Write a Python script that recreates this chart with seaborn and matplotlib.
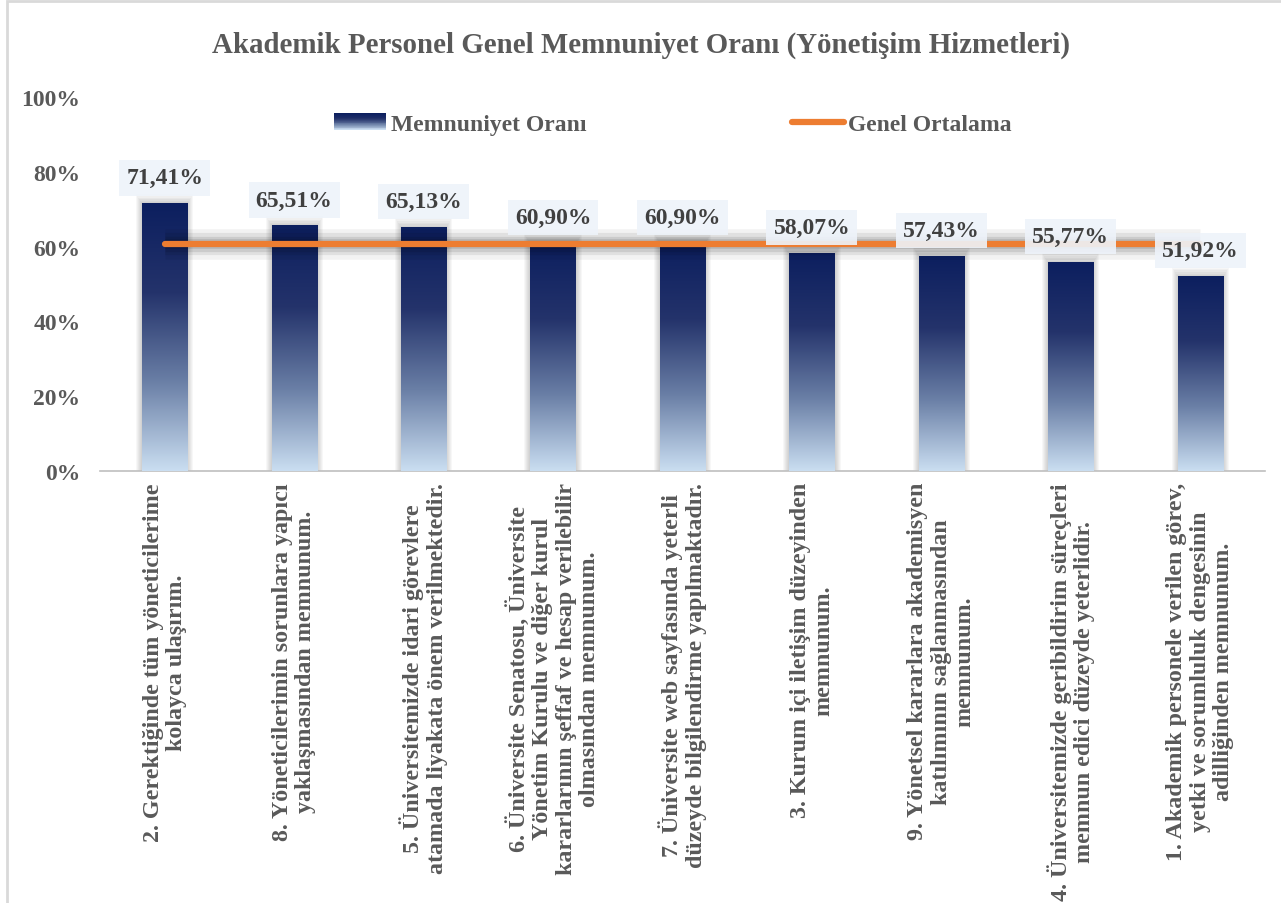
import numpy as np
import pandas as pd
import matplotlib
matplotlib.use('Agg')
import matplotlib.pyplot as plt
import seaborn as sns
from matplotlib.patches import Rectangle
from matplotlib.legend_handler import HandlerBase
from matplotlib.lines import Line2D
from matplotlib.colors import LinearSegmentedColormap

# Data
categories = [
    "2. Gerektiğinde tüm yöneticilerime\nkolayca ulaşırım.",
    "8. Yöneticilerimin sorunlara yapıcı\nyaklaşmasından memnunum.",
    "5. Üniversitemizde idari görevlere\natamada liyakata önem verilmektedir.",
    "6. Üniversite Senatosu, Üniversite\nYönetim Kurulu ve diğer kurul\nkararlarının şeffaf ve hesap verilebilir\nolmasından memnunum.",
    "7. Üniversite web sayfasında yeterli\ndüzeyde bilgilendirme yapılmaktadır.",
    "3. Kurum içi iletişim düzeyinden\nmemnunum.",
    "9. Yönetsel kararlara akademisyen\nkatılımının sağlanmasından\nmemnunum.",
    "4. Üniversitemizde geribildirim süreçleri\nmemnun edici düzeyde yeterlidir.",
    "1. Akademik personele verilen görev,\nyetki ve sorumluluk dengesinin\nadilliğinden memnunum.",
]
memnuniyet = [71.41, 65.51, 65.13, 60.90, 60.90, 58.07, 57.43, 55.77, 51.92]
genel_ortalama = [60.78] * 9
value_labels = ["71,41%", "65,51%", "65,13%", "60,90%", "60,90%", "58,07%", "57,43%", "55,77%", "51,92%"]
y_ticks = [0, 20, 40, 60, 80, 100]

df = pd.DataFrame({'kategori': categories, 'oran': memnuniyet, 'ortalama': genel_ortalama})
df['x'] = range(len(df))

sns.set_style('white')
plt.rcParams['font.family'] = ['Liberation Serif', 'DejaVu Serif']
plt.rcParams['font.weight'] = 'bold'

navy = '#0c1f5f'
grad_cmap = LinearSegmentedColormap.from_list('grad', ['#cadef1', '#6a7fa6', '#24336b', navy])
gray_txt = '#595959'

fig = plt.figure(figsize=(12.81, 9.04), dpi=100)
ax = fig.add_axes([100 / 1281, 1 - 472 / 904, 1165 / 1281, 374 / 904])

sns.barplot(data=df, x='x', y='oran', width=0.35, color=navy, ax=ax, zorder=2)

# px to data units
px_x = 9 / 1165
px_y = 100 / 374

# gradient bars + soft shadow
grad = np.linspace(0, 1, 256).reshape(-1, 1)
for p, val, lab in zip(ax.patches, memnuniyet, value_labels):
    x0, w, h = p.get_x(), p.get_width(), p.get_height()
    for k in range(1, 7):
        ax.add_patch(Rectangle((x0 - k * 1.0 * px_x, 0), w + 2 * k * 1.0 * px_x, h + k * 1.6 * px_y,
                               facecolor='black', edgecolor='none', alpha=0.03, zorder=1))
    ax.imshow(grad, extent=(x0, x0 + w, 0, h), origin='lower', cmap=grad_cmap,
              aspect='auto', zorder=3)
    p.set_visible(False)
    ax.text(x0 + w / 2, h + 26 * px_y, lab, ha='center', va='center', fontsize=17,
            fontweight='bold', color='#404040', zorder=6,
            bbox=dict(boxstyle='square,pad=0.3', fc='#eef3fa', ec='none', alpha=0.9))

# line shadow + average line
for lw, a in [(22, 0.05), (16, 0.07), (11, 0.09), (7, 0.1)]:
    ax.plot(df['x'], df['ortalama'], color='black', lw=lw, alpha=a, solid_capstyle='butt', zorder=4)
sns.lineplot(data=df, x='x', y='ortalama', color='#ed7d31', lw=4.5, ax=ax, zorder=5,
             solid_capstyle='round')

ax.set_xlim(-0.5, 8.5)
ax.set_ylim(0, 100)
ax.set_yticks(y_ticks)
ax.set_yticklabels([f"{t}%" for t in y_ticks], fontsize=17, fontweight='bold', color=gray_txt)
ax.set_xticks(range(9))
ax.set_xticklabels(categories, rotation=90, fontsize=17.3, fontweight='bold', color=gray_txt,
                   multialignment='center', linespacing=1.15)
ax.set_xticks(np.arange(-0.5, 9, 1), minor=True)
ax.tick_params(axis='x', which='major', length=0, pad=8)
ax.tick_params(axis='x', which='minor', length=6, color='#bfbfbf', width=1.2)
ax.tick_params(axis='y', length=0, pad=14)
ax.set_xlabel('')
ax.set_ylabel('')
for s in ['top', 'right', 'left']:
    ax.spines[s].set_visible(False)
ax.spines['bottom'].set_color('#bfbfbf')
ax.spines['bottom'].set_linewidth(1.2)


# legend with gradient swatch
class HandlerGradient(HandlerBase):
    def create_artists(self, legend, orig_handle, xdescent, ydescent, width, height, fontsize, trans):
        n = 20
        arts = []
        for i in range(n):
            c = grad_cmap(i / (n - 1))
            r = Rectangle((-xdescent, -ydescent + height * i / n), width, height / n + 0.3,
                          facecolor=c, edgecolor='none', transform=trans)
            arts.append(r)
        return arts


bar_handle = Rectangle((0, 0), 1, 1)
line_handle = Line2D([0], [0], color='#ed7d31', lw=4.5, solid_capstyle='round')
leg = ax.legend([bar_handle, line_handle], ['Memnuniyet Oranı', 'Genel Ortalama'],
                handler_map={Rectangle: HandlerGradient()}, ncol=2, frameon=False,
                loc='center', bbox_to_anchor=(0.492, 0.927), columnspacing=8.7,
                handlelength=2.2, handletextpad=0.2, prop={'size': 17, 'weight': 'bold'})
for t in leg.get_texts():
    t.set_color(gray_txt)

fig.text(0.5, 1 - 45 / 904, 'Akademik Personel Genel Memnuniyet Oranı (Yönetişim Hizmetleri)',
         ha='center', va='center', fontsize=20.8, fontweight='bold', color=gray_txt)

# outer frame
fig.patches.append(Rectangle((7 / 1281, -0.01), 1.1, 1 - 2 / 904 + 0.01, transform=fig.transFigure,
                             fill=False, edgecolor='#d9d9d9', lw=2))

fig.savefig('out.png', dpi=100)
